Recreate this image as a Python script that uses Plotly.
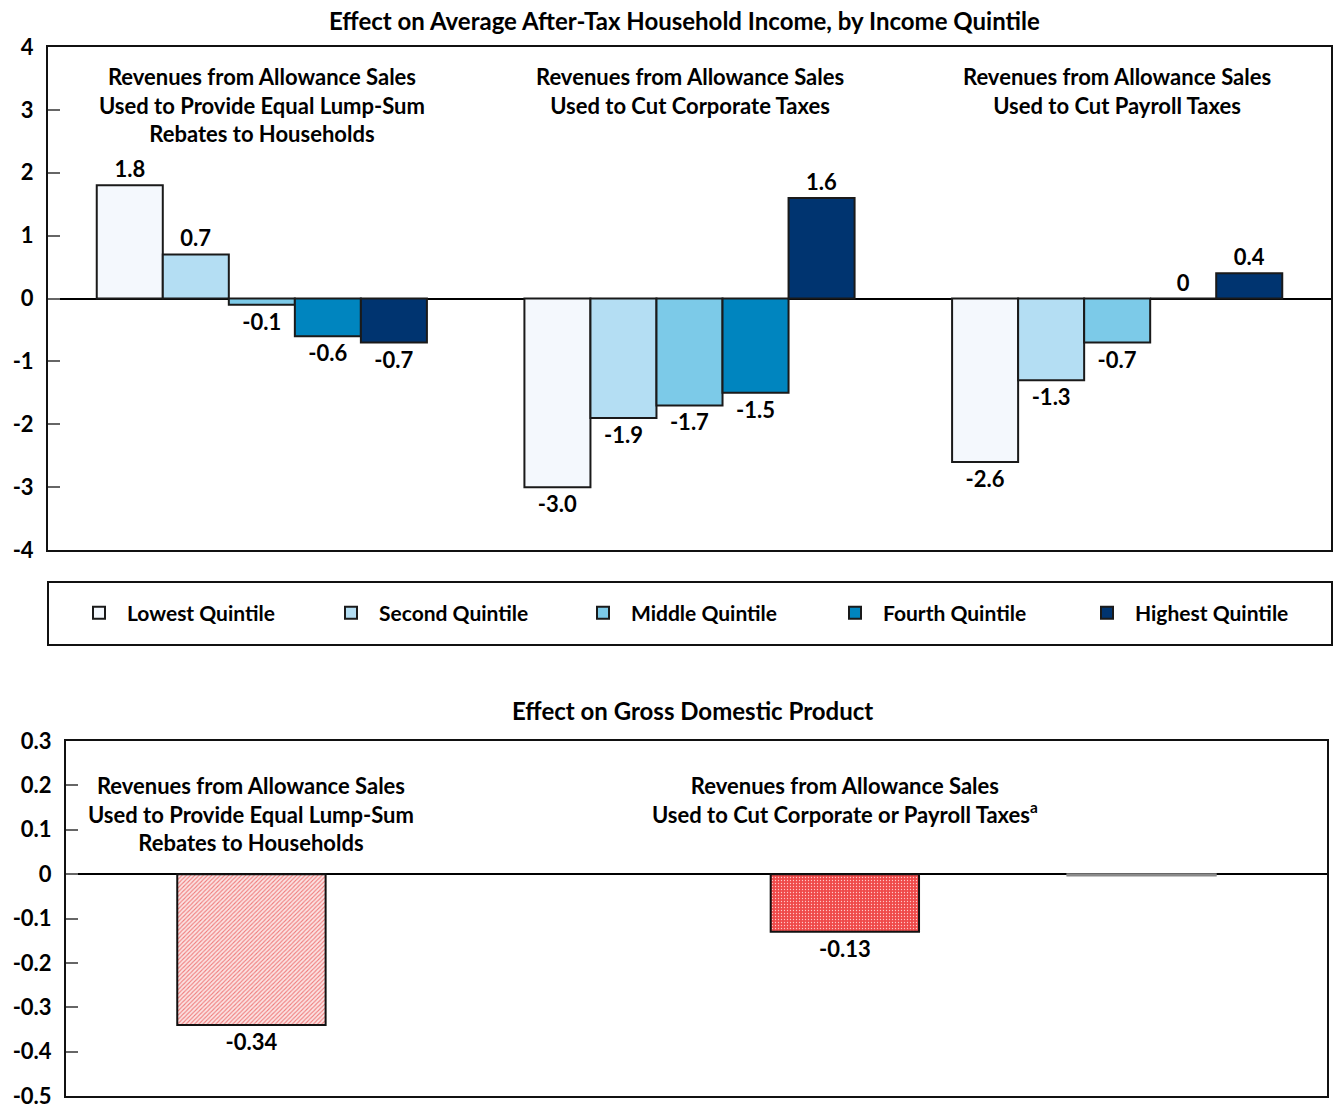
import plotly.graph_objects as go

FONT = "Lato, sans-serif"

# ---------------- data ----------------
groups = ["Lump-Sum Rebates", "Corporate Taxes", "Payroll Taxes"]
quintile_names = ["Lowest Quintile", "Second Quintile", "Middle Quintile",
                  "Fourth Quintile", "Highest Quintile"]
lowest = [1.8, -3.0, -2.6]
second = [0.7, -1.9, -1.3]
middle = [-0.1, -1.7, -0.7]
fourth = [-0.6, -1.5, 0.0]
highest = [-0.7, 1.6, 0.4]
quintile_colors = ["#F4F8FD", "#B4DEF3", "#7CCAE8", "#0085BF", "#003470"]

income_ticks = [4, 3, 2, 1, 0, -1, -2, -3, -4]
income_tick_labels = ["4", "3", "2", "1", "0", "-1", "-2", "-3", "-4"]

group_titles = [
    "Revenues from Allowance Sales<br>Used to Provide Equal Lump-Sum<br>Rebates to Households",
    "Revenues from Allowance Sales<br>Used to Cut Corporate Taxes",
    "Revenues from Allowance Sales<br>Used to Cut Payroll Taxes",
]

gdp_categories = ["Lump-Sum Rebates", "Corporate Taxes", "Payroll Taxes"]
gdp_axis_order = ["Lump-Sum Rebates", " ", "Corporate Taxes", "Payroll Taxes"]
gdp_values = [-0.34, -0.13, -0.003]
gdp_labels = ["-0.34", "-0.13", ""]
gdp_fill = ["#FBE3E3", "#EF4A4A", "#8a8a8a"]
gdp_pattern_shape = ["/", ".", ""]
gdp_pattern_fg = ["#EF7A7A", "#FFC8C8", "#8a8a8a"]
gdp_pattern_solidity = [0.35, 0.15, 0.3]
gdp_outline = ["#111111", "#111111", "#8a8a8a"]
gdp_ticks = [0.3, 0.2, 0.1, 0, -0.1, -0.2, -0.3, -0.4, -0.5]
gdp_tick_labels = ["0.3", "0.2", "0.1", "0", "-0.1", "-0.2", "-0.3", "-0.4", "-0.5"]
gdp_group_titles = [
    "Revenues from Allowance Sales<br>Used to Provide Equal Lump-Sum<br>Rebates to Households",
    "Revenues from Allowance Sales<br>Used to Cut Corporate or Payroll Taxes<sup>a</sup>",
]
gdp_group_anchor = ["Lump-Sum Rebates", "Corporate Taxes"]

# ---------------- figure ----------------
W, H = 1333, 1105


def px_x(p):
    return p / W


def px_y(p):
    return 1 - p / H


def fmt(v):
    return "0" if v == 0 else f"{v:.1f}"


fig = go.Figure()

series = [lowest, second, middle, fourth, highest]
for name, vals, col in zip(quintile_names, series, quintile_colors):
    fig.add_trace(go.Bar(
        x=groups, y=vals, name=name,
        marker=dict(color=col, line=dict(color="#1a1a1a", width=2)),
        text=[fmt(v) for v in vals], textposition="outside",
        textfont=dict(family=FONT, size=22, color="black", weight="bold"),
        cliponaxis=False, xaxis="x", yaxis="y",
    ))

for i, cat in enumerate(gdp_categories):
    pat = dict(shape=gdp_pattern_shape[i], fgcolor=gdp_pattern_fg[i],
               bgcolor=gdp_fill[i], size=3,
               solidity=gdp_pattern_solidity[i],
               fillmode="replace")
    fig.add_trace(go.Bar(
        x=[cat], y=[gdp_values[i]], showlegend=False,
        width=0.5, offsetgroup="gdp",
        marker=dict(color=gdp_fill[i], line=dict(color=gdp_outline[i], width=2),
                    pattern=pat),
        text=[gdp_labels[i]], textposition="outside",
        textfont=dict(family=FONT, size=22, color="black", weight="bold"),
        cliponaxis=False, xaxis="x2", yaxis="y2",
    ))

axis_common = dict(showline=True, linecolor="#111111", linewidth=2, mirror=True,
                   showgrid=False, automargin=False)

fig.update_layout(
    width=W, height=H,
    margin=dict(l=0, r=0, t=0, b=0, autoexpand=False),
    paper_bgcolor="white", plot_bgcolor="white",
    barmode="group", bargap=0.228, bargroupgap=0,
    font=dict(family=FONT, size=20, color="black"),
    xaxis=dict(domain=[px_x(48), px_x(1331)], anchor="y",
               range=[-0.5, 2.5], showticklabels=False, ticks="",
               **axis_common),
    yaxis=dict(domain=[px_y(550), px_y(47)], anchor="x",
               range=[-4, 4], tickvals=income_ticks, ticktext=income_tick_labels,
               ticks="inside", ticklen=12, tickwidth=2, tickcolor="#666666",
               ticklabelstandoff=8, ticklabeloverflow="allow",
               tickfont=dict(family=FONT, size=22, color="black", weight="bold"),
               zeroline=True, zerolinecolor="black", zerolinewidth=2,
               **axis_common),
    xaxis2=dict(domain=[px_x(66), px_x(1327)], anchor="y2",
                type="category", categoryorder="array", categoryarray=gdp_axis_order,
                range=[-0.625, 3.625], showticklabels=False, ticks="",
                **axis_common),
    yaxis2=dict(domain=[px_y(1096), px_y(741)], anchor="x2",
                range=[-0.5, 0.3], tickvals=gdp_ticks, ticktext=gdp_tick_labels,
                ticks="inside", ticklen=12, tickwidth=2, tickcolor="#666666",
                ticklabelstandoff=8, ticklabeloverflow="allow",
                tickfont=dict(family=FONT, size=22, color="black", weight="bold"),
                zeroline=True, zerolinecolor="black", zerolinewidth=2,
                **axis_common),
    legend=dict(orientation="h", x=px_x(71), xanchor="left",
                y=px_y(613), yanchor="middle",
                bgcolor="rgba(0,0,0,0)", itemwidth=46,
                entrywidth=191, entrywidthmode="pixels",
                font=dict(family=FONT, size=21, color="black", weight="bold"),
                traceorder="normal"),
    showlegend=True,
)

# legend frame
fig.add_shape(type="rect", xref="paper", yref="paper",
              x0=px_x(48), x1=px_x(1332), y0=px_y(645), y1=px_y(582),
              line=dict(color="#111111", width=2))

annotations = []
annotations.append(dict(text="Effect on Average After-Tax Household Income, by Income Quintile",
                        xref="paper", yref="paper", x=px_x(684.5), y=px_y(20),
                        xanchor="center", yanchor="middle", showarrow=False,
                        font=dict(family=FONT, size=24, color="black", weight="bold")))
annotations.append(dict(text="Effect on Gross Domestic Product",
                        xref="paper", yref="paper", x=px_x(693), y=px_y(710),
                        xanchor="center", yanchor="middle", showarrow=False,
                        font=dict(family=FONT, size=24, color="black", weight="bold")))
for g, t in zip(groups, group_titles):
    annotations.append(dict(text=t, xref="x", yref="paper", x=g, y=px_y(61),
                            xanchor="center", yanchor="top", showarrow=False,
                            font=dict(family=FONT, size=22, color="black", weight="bold")))
for g, t in zip(gdp_group_anchor, gdp_group_titles):
    annotations.append(dict(text=t, xref="x2", yref="paper", x=g, y=px_y(770),
                            xanchor="center", yanchor="top", showarrow=False,
                            font=dict(family=FONT, size=22, color="black", weight="bold")))
fig.update_layout(annotations=annotations)

fig.write_html("out.html")
